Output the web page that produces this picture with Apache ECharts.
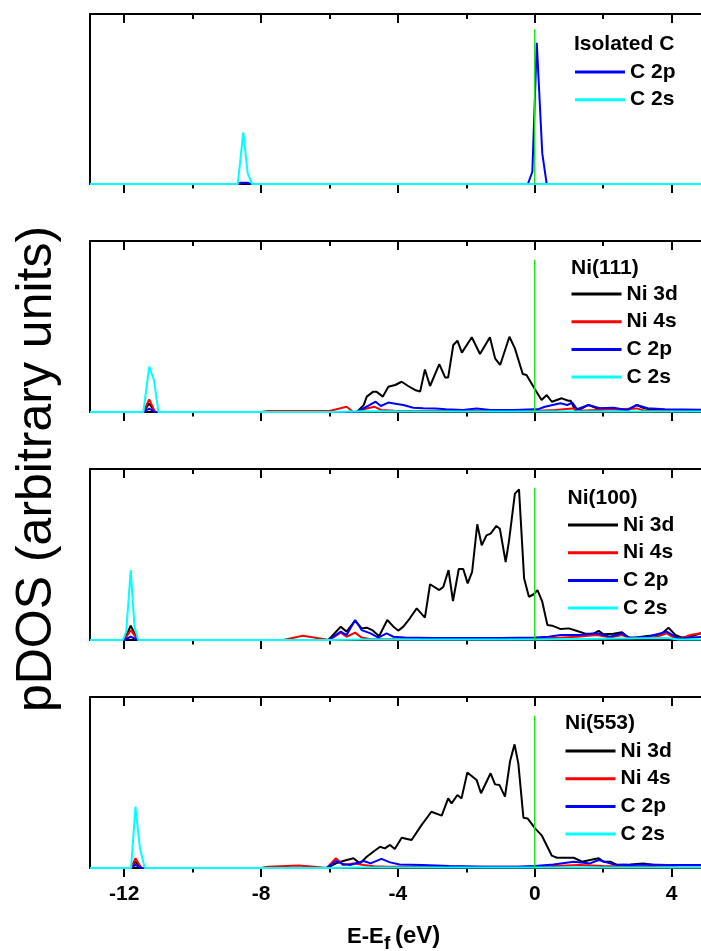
<!DOCTYPE html>
<html>
<head>
<meta charset="utf-8">
<script src="https://cdn.jsdelivr.net/npm/echarts@6/dist/echarts.min.js"></script>
<style>
html,body{margin:0;padding:0;background:#fff;}
#chart{width:701px;height:951px;}
</style>
</head>
<body>
<div id="chart"></div>
<script>
// ---------- DATA ----------
const panelTitles = ['Isolated C', 'Ni(111)', 'Ni(100)', 'Ni(553)'];
const majorTicks = [-12, -8, -4, 0, 4];
const minorTicks = [-10, -6, -2, 2];
const fermiTop = [91, 89, 89, 89];

// Panel 1 : Isolated C
const p1_c2p = [[-13,0],[-8.68,0],[-8.6,0.8],[-8.4,0.8],[-8.3,0],[-0.2,0],[-0.07,7.2],[0.06,83],[0.22,18],[0.35,0],[5,0]];
const p1_c2s = [[-13,0],[-8.68,0],[-8.52,30.4],[-8.39,6.3],[-8.26,0],[5,0]];

// Panel 2 : Ni(111)
const p2_ni3d = [[-13,0],[-11.44,0],[-11.27,5],[-11.1,0],[-5.2,0],[-5.0,4],[-4.91,9],[-4.72,11.9],[-4.63,11.9],[-4.44,9],[-4.28,14.8],[-4.08,15.8],[-3.89,17.7],[-3.70,15.2],[-3.50,12.9],[-3.35,11.9],[-3.21,24.9],[-3.06,15.2],[-2.79,28.0],[-2.62,20.2],[-2.53,20.2],[-2.38,39.2],[-2.26,41.7],[-2.13,34.7],[-1.84,43.7],[-1.60,33.9],[-1.31,43.7],[-1.16,31.4],[-1.01,27.5],[-0.74,44.0],[-0.58,37.2],[-0.35,22.2],[-0.24,21.6],[0.01,13.2],[0.20,7.0],[0.35,9.9],[0.50,6.0],[0.79,8.0],[0.98,6.6],[1.05,6.6],[1.18,1.2],[1.3,1.2],[1.57,4.1],[1.82,2.2],[2.3,1.6],[2.74,1.2],[2.98,4.1],[3.2,2.2],[3.5,1.2],[4.0,1.2],[5,1.0]];
const p2_ni4s = [[-13,0],[-11.44,0],[-11.27,7.4],[-11.1,0],[-8,0],[-7.8,0.6],[-6,0.6],[-5.5,3.1],[-5.3,0],[-5.1,0.5],[-4.91,2.1],[-4.69,3.1],[-4.5,1.2],[-4.1,0.8],[-2,0.6],[0,0.6],[0.6,1.2],[1.1,2.1],[1.3,0.8],[2.98,2.1],[3.2,0.8],[5,0.6]];
const p2_c2p = [[-13,0],[-11.44,0],[-11.27,2],[-11.1,0],[-5.2,0],[-4.82,4.1],[-4.65,6.0],[-4.5,3.5],[-4.28,5.5],[-4.03,4.7],[-3.84,4.1],[-3.55,2.5],[-3.26,2.2],[-2.9,2.0],[-2.6,1.6],[-2.1,1.2],[-1.7,2.0],[-1.3,1.2],[-0.6,1.2],[0,1.6],[0.1,1.6],[0.3,3.1],[0.75,5.1],[0.95,4.1],[1.1,5.5],[1.24,1.6],[1.57,4.1],[1.9,2.2],[2.3,2.5],[2.7,1.2],[2.98,4.1],[3.3,2.2],[3.8,1.6],[5,1.2]];
const p2_c2s = [[-13,0],[-11.44,0],[-11.27,26.5],[-11.13,18.7],[-11.0,0],[-6,0],[-5,0.5],[-3,0.3],[0,0.3],[5,0.3]];

// Panel 3 : Ni(100)
const p3_ni3d = [[-13,0],[-12.0,0],[-11.81,8.4],[-11.6,0],[-6.03,0],[-5.67,7.8],[-5.50,4.9],[-5.25,11.3],[-5.06,6.8],[-4.91,7.2],[-4.75,5.8],[-4.55,2.2],[-4.31,11.7],[-4.13,7.8],[-3.99,5.5],[-3.84,7.8],[-3.65,12.7],[-3.45,18.5],[-3.21,13.1],[-3.06,32.6],[-2.79,29.2],[-2.67,31.2],[-2.52,40.9],[-2.39,22.8],[-2.22,41.5],[-2.09,41.5],[-1.96,33.1],[-1.83,39.9],[-1.68,67.7],[-1.55,55.4],[-1.41,61.2],[-1.29,62.2],[-1.12,66.7],[-1.02,65.1],[-0.85,45.6],[-0.75,58.3],[-0.58,85.6],[-0.46,88.1],[-0.31,35.9],[-0.17,25.3],[-0.04,26.6],[0.08,29.2],[0.22,22.4],[0.37,8.8],[0.51,8.4],[0.76,6.4],[1.0,6.8],[1.24,5.3],[1.48,3.7],[1.72,3.7],[1.87,5.3],[2.01,3.3],[2.30,3.7],[2.55,4.5],[2.74,1.4],[2.98,1.4],[3.28,2.3],[3.67,2.9],[3.91,7.2],[4.11,2.9],[4.30,1.4],[4.55,1.9],[4.84,3.9],[5,3.5]];
const p3_ni4s = [[-13,0],[-12.0,0],[-11.81,5.8],[-11.6,0],[-7.35,0],[-6.78,2.5],[-6.0,0],[-5.67,4.3],[-5.5,1.9],[-5.25,4.3],[-5.06,1.4],[-4.8,0.5],[-2,0.5],[0,0.6],[1.24,1.9],[1.82,2.9],[2.2,1.5],[2.55,2.9],[2.8,1.0],[3.5,1.5],[3.86,3.9],[4.1,1.0],[4.3,1.0],[4.55,2.9],[4.84,3.9],[5,4.5]];
const p3_c2p = [[-13,0],[-12.0,0],[-11.81,1.9],[-11.6,0],[-6.03,0],[-5.67,4.9],[-5.50,2.9],[-5.25,11.7],[-5.06,5.8],[-4.8,3.9],[-4.57,1.4],[-4.33,3.9],[-4.13,1.9],[-3.8,1.4],[-3,1.2],[-2,1.2],[-1,1.2],[0,1.4],[0.4,1.9],[0.76,2.9],[1.3,2.9],[1.82,3.9],[2.2,1.9],[2.55,3.9],[2.8,1.0],[3.3,1.9],[3.86,4.9],[4.2,0.8],[4.6,1.4],[5,1.9]];
const p3_c2s = [[-13,0],[-12.04,0],[-11.94,5],[-11.81,40.9],[-11.7,8],[-11.59,0],[-6,0],[-5,0.3],[0,0.3],[3.86,1.2],[4.2,0.3],[5,0.3]];

// Panel 4 : Ni(553)
const p4_ni3d = [[-13,0],[-11.8,0],[-11.67,3.7],[-11.5,0],[-6.08,0],[-5.81,2.7],[-5.60,4.1],[-5.30,5.7],[-5.11,2.7],[-4.91,6.6],[-4.72,9.5],[-4.52,12.4],[-4.38,11.5],[-4.23,13.5],[-4.09,11.1],[-3.89,17.7],[-3.60,16.4],[-3.31,25.1],[-3.02,32.9],[-2.72,30.6],[-2.53,40.7],[-2.43,37.8],[-2.26,42.7],[-2.14,40.7],[-1.97,55.9],[-1.70,51.5],[-1.57,43.7],[-1.29,55.4],[-1.16,48.9],[-1.03,48.5],[-0.87,41.7],[-0.72,62.6],[-0.59,72.3],[-0.48,61.2],[-0.33,29.4],[-0.21,29.0],[0.01,23.2],[0.21,18.9],[0.50,7.2],[0.65,6.0],[1.14,6.0],[1.38,3.7],[1.62,4.7],[1.87,5.7],[2.01,3.7],[2.21,3.7],[2.40,1.8],[2.79,2.1],[3.18,2.7],[3.47,1.8],[3.86,1.4],[4.26,1.8],[5,1.8]];
const p4_ni4s = [[-13,0],[-11.8,0],[-11.67,5.7],[-11.5,0],[-8,0],[-7.8,0.8],[-6.9,1.4],[-6.3,0.5],[-6.08,0],[-5.81,5.7],[-5.6,1.8],[-5.3,2.7],[-5.0,1.8],[-4.7,1.0],[-4.3,0.8],[-2,0.8],[0,0.8],[1.3,1.8],[2,1.2],[3,0.8],[3.86,1.4],[5,1.4]];
const p4_c2p = [[-13,0],[-11.8,0],[-11.67,1.8],[-11.5,0],[-6.08,0],[-5.81,4.1],[-5.6,2.3],[-5.4,1.8],[-5.0,4.1],[-4.8,2.7],[-4.48,5.3],[-4.23,3.3],[-3.95,2.1],[-3.3,1.8],[-2.5,1.2],[-1.5,0.8],[-0.5,0.8],[0,1.2],[0.55,2.1],[1.14,3.7],[1.62,2.7],[1.87,4.7],[2.3,2.1],[2.8,1.8],[3.3,2.1],[3.86,1.8],[5,1.8]];
const p4_c2s = [[-13,0],[-11.8,0],[-11.67,35.9],[-11.54,11.5],[-11.40,0],[-6,0],[-5,0.3],[0,0.3],[5,0.3]];

// ---------- STYLE / LAYOUT ----------
const FONT = "'Liberation Sans', Arial, Helvetica, sans-serif";
const COLORS = {'Ni 3d':'#000000','Ni 4s':'#ff0000','C 2p':'#0000ff','C 2s':'#00ffff'};
const X_MIN = -13, X_MAX = 4.86;          // visible energy window (figure is cropped at right)
const gridTops = [14, 241, 469, 697];
const gridH = [170, 171, 171, 171];
const legendPos = [[575,61.5],[571.5,283.5],[568,514.5],[565.5,740.5]];
const titlePos = [[574,44],[571,268],[567.5,498.5],[565,723.5]];

const panels = [
  [['C 2p', p1_c2p], ['C 2s', p1_c2s]],
  [['Ni 3d', p2_ni3d], ['Ni 4s', p2_ni4s], ['C 2p', p2_c2p], ['C 2s', p2_c2s]],
  [['Ni 3d', p3_ni3d], ['Ni 4s', p3_ni4s], ['C 2p', p3_c2p], ['C 2s', p3_c2s]],
  [['Ni 3d', p4_ni3d], ['Ni 4s', p4_ni4s], ['C 2p', p4_c2p], ['C 2s', p4_c2s]]
];

const grid = [], xAxis = [], yAxis = [], series = [], legend = [], graphic = [];

function xa(gi, pos, vals, len, inside, showLine, showLabel) {
  return {
    type: 'value', gridIndex: gi, position: pos, min: X_MIN, max: X_MAX,
    axisLine: {show: showLine, onZero: false, lineStyle: {color: '#000', width: 2}},
    axisTick: {show: true, inside: inside, length: len, customValues: vals, lineStyle: {color: '#000', width: 2}},
    axisLabel: {show: showLabel, customValues: vals, margin: 16, color: '#000', fontSize: 21, fontWeight: 'bold', fontFamily: FONT},
    splitLine: {show: false}
  };
}

for (let i = 0; i < 4; i++) {
  grid.push({left: 90, top: gridTops[i], width: 611, height: gridH[i], containLabel: false});
  xAxis.push(xa(i, 'bottom', majorTicks, 9, false, true, i === 3));
  xAxis.push(xa(i, 'bottom', minorTicks, 4.5, false, false, false));
  xAxis.push(xa(i, 'top', majorTicks, 9, true, true, false));
  xAxis.push(xa(i, 'top', minorTicks, 5, true, false, false));
  yAxis.push({
    type: 'value', gridIndex: i, min: 0, max: 100, position: 'left',
    axisLine: {show: true, onZero: false, lineStyle: {color: '#000', width: 2}},
    axisTick: {show: false}, axisLabel: {show: false}, splitLine: {show: false}
  });
  panels[i].forEach(([name, data], k) => {
    series.push({
      type: 'line', name: name, data: data, xAxisIndex: i * 4, yAxisIndex: i,
      symbol: 'none', showSymbol: false, animation: false, z: 2 + k,
      lineStyle: {color: COLORS[name], width: 2}, itemStyle: {color: COLORS[name]}
    });
  });
  series.push({
    type: 'line', name: 'Ef', data: [[0, 0], [0, fermiTop[i]]], xAxisIndex: i * 4, yAxisIndex: i,
    symbol: 'none', showSymbol: false, animation: false, z: 10,
    lineStyle: {color: '#1ee61e', width: 1.5}, itemStyle: {color: '#1ee61e'}
  });
  legend.push({
    orient: 'vertical', left: legendPos[i][0], top: legendPos[i][1], padding: 0,
    itemGap: 6.7, itemWidth: 50, itemHeight: 3, icon: 'rect', selectedMode: false,
    data: panels[i].map(p => p[0]),
    textStyle: {fontSize: 21, fontWeight: 'bold', color: '#000', fontFamily: FONT, lineHeight: 21}
  });
  graphic.push({
    type: 'text', x: titlePos[i][0], y: titlePos[i][1],
    style: {text: panelTitles[i], fontSize: 21, fontWeight: 'bold', fontFamily: FONT, fill: '#000',
            textAlign: 'left', textVerticalAlign: 'middle'}
  });
}

// y axis title
graphic.push({
  type: 'text', x: 37, y: 469, rotation: Math.PI / 2,
  style: {text: 'pDOS (arbitrary units)', fontSize: 50, fontFamily: FONT, fill: '#000',
          textAlign: 'center', textVerticalAlign: 'middle'}
});
// x axis title  E-E_f(eV)
graphic.push({
  type: 'text', x: 347, y: 937,
  style: {text: 'E-E', fontSize: 22, fontWeight: 'bold', fontFamily: FONT, fill: '#000',
          textAlign: 'left', textVerticalAlign: 'middle'}
});
graphic.push({
  type: 'text', x: 384, y: 944,
  style: {text: 'f', fontSize: 19, fontWeight: 'bold', fontFamily: FONT, fill: '#000',
          textAlign: 'left', textVerticalAlign: 'middle'}
});
graphic.push({
  type: 'text', x: 395, y: 936,
  style: {text: '(eV)', fontSize: 24, fontWeight: 'bold', fontFamily: FONT, fill: '#000',
          textAlign: 'left', textVerticalAlign: 'middle'}
});

const chart = echarts.init(document.getElementById('chart'), null, {renderer: 'canvas'});
chart.setOption({
  animation: false,
  backgroundColor: '#fff',
  grid, xAxis, yAxis, series, legend, graphic
});
</script>
</body>
</html>
